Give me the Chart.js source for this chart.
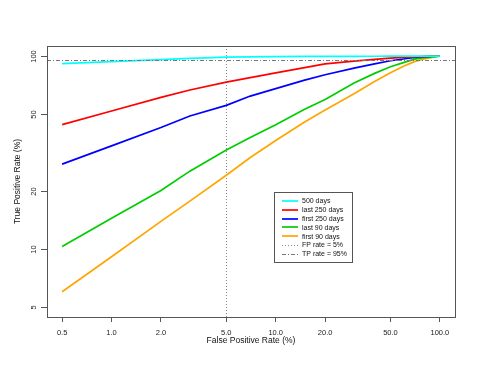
<!DOCTYPE html>
<html>
<head>
<meta charset="utf-8">
<script src="https://cdn.jsdelivr.net/npm/chart.js@4/dist/chart.umd.min.js"></script>
<style>
html,body{margin:0;padding:0;background:#fff;}
#wrap{width:485px;height:374px;position:relative;}
</style>
</head>
<body>
<div id="wrap"><canvas id="c" width="485" height="374"></canvas></div>
<script>
const xTicks = [0.5, 1, 2, 5, 10, 20, 50, 100];
const yTicks = [5, 10, 20, 50, 100];
const fpr = [0.5, 1, 2, 3, 5, 7, 10, 15, 20, 30, 40, 50, 60, 70, 80, 90, 100];
const tpr500 = [91.3, 93.5, 95.8, 97.2, 98.8, 99.1, 99.3, 99.5, 99.6, 99.7, 99.75, 99.8, 99.85, 99.9, 99.95, 99.97, 100];
const tprLast250 = [44.1, 51.9, 61.0, 66.7, 73.3, 77.3, 81.8, 87.0, 91.0, 94.0, 96.0, 97.5, 98.3, 99.0, 99.4, 99.8, 100];
const tprFirst250 = [27.5, 34.2, 42.6, 48.9, 55.5, 62.0, 67.8, 75.0, 80.0, 86.5, 91.0, 94.5, 96.5, 98.5, 99.4, 99.8, 100];
const tprLast90 = [10.3, 14.4, 20.1, 25.3, 32.6, 37.8, 44.0, 53.0, 59.5, 72.5, 81.3, 88.0, 92.5, 96.3, 98.0, 99.0, 100];
const tprFirst90 = [6.0, 9.1, 13.9, 17.7, 24.1, 29.8, 36.5, 45.5, 52.5, 63.8, 73.8, 81.8, 88.5, 93.5, 96.5, 98.4, 100];
const seriesNames = ['500 days', 'last 250 days', 'first 250 days', 'last 90 days', 'first 90 days'];
const seriesColors = ['#00FFFF', '#FF0000', '#0000FF', '#00CD00', '#FFA500'];
const seriesValues = [tpr500, tprLast250, tprFirst250, tprLast90, tprFirst90];
const fpRate = 5;
const tpRate = 95;
const refNames = ['FP rate = 5%', 'TP rate = 95%'];

const xMin = 0.5, xMax = 100, yMin = 5, yMax = 100;
const ext = 0.04;
function logExt(lo, hi) {
  const a = Math.log10(lo), b = Math.log10(hi), d = (b - a) * ext;
  return [Math.pow(10, a - d), Math.pow(10, b + d)];
}
const [xLo, xHi] = logExt(xMin, xMax);
const [yLo, yHi] = logExt(yMin, yMax);

const datasets = seriesValues.map((vals, i) => ({
  label: seriesNames[i],
  data: fpr.map((x, j) => ({x: x, y: vals[j]})),
  borderColor: seriesColors[i],
  backgroundColor: seriesColors[i],
  borderWidth: 1.7,
  pointRadius: 0,
  tension: 0,
  fill: false
}));

const FONT = "'Liberation Sans', Arial, Helvetica, sans-serif";
const axisCol = '#555';

const overlay = {
  id: 'overlay',
  beforeDatasetsDraw(chart) {
    const ctx = chart.ctx, xs = chart.scales.x, a = chart.chartArea;
    ctx.save();
    ctx.strokeStyle = '#888';
    ctx.lineWidth = 1;
    ctx.setLineDash([1, 2]);
    const px = Math.round(xs.getPixelForValue(fpRate)) + 0.5;
    ctx.beginPath(); ctx.moveTo(px, a.top); ctx.lineTo(px, a.bottom); ctx.stroke();
    ctx.restore();
  },
  afterDatasetsDraw(chart) {
    const ctx = chart.ctx, ys = chart.scales.y, a = chart.chartArea;
    ctx.save();
    ctx.strokeStyle = '#777';
    ctx.lineWidth = 1;
    ctx.setLineDash([4, 2, 1, 2]);
    const py = Math.round(ys.getPixelForValue(tpRate)) + 0.5;
    ctx.beginPath(); ctx.moveTo(a.left, py); ctx.lineTo(a.right, py); ctx.stroke();
    ctx.setLineDash([]);
    ctx.strokeStyle = axisCol;
    ctx.strokeRect(Math.round(a.left) + 0.5, Math.round(a.top) + 0.5, Math.round(a.right - a.left), Math.round(a.bottom - a.top));
    ctx.fillStyle = '#222';
    ctx.font = '7.5px ' + FONT;
    ctx.textAlign = 'center';
    ctx.textBaseline = 'middle';
    yTicks.forEach(v => {
      const y = Math.round(ys.getPixelForValue(v)) + 0.5;
      ctx.beginPath(); ctx.moveTo(a.left, y); ctx.lineTo(a.left - 6, y); ctx.stroke();
      ctx.save();
      ctx.translate(a.left - 13, y);
      ctx.rotate(-Math.PI / 2);
      ctx.fillText(String(v), 0, 0);
      ctx.restore();
    });
    const lx = 274, ly = 192, lw = 78, lh = 70;
    ctx.fillStyle = '#fff';
    ctx.fillRect(lx, ly, lw, lh);
    ctx.strokeStyle = '#555';
    ctx.lineWidth = 1;
    ctx.strokeRect(lx + 0.5, ly + 0.5, lw, lh);
    ctx.font = '7px ' + FONT;
    ctx.textAlign = 'left';
    const rowH = 8.85, y0 = 200.8;
    const entries = seriesNames.map((n, i) => ({name: n, color: seriesColors[i], dash: [], w: 1.7}));
    entries.push({name: refNames[0], color: '#888', dash: [1, 2], w: 1});
    entries.push({name: refNames[1], color: '#777', dash: [4, 2, 1, 2], w: 1});
    entries.forEach((e, i) => {
      const y = y0 + i * rowH;
      const yy = Math.round(y) + (e.w === 1 ? 0.5 : 0);
      ctx.strokeStyle = e.color;
      ctx.lineWidth = e.w;
      ctx.setLineDash(e.dash);
      ctx.beginPath(); ctx.moveTo(282, yy); ctx.lineTo(298, yy); ctx.stroke();
      ctx.setLineDash([]);
      ctx.fillStyle = '#111';
      ctx.fillText(e.name, 302, y + 0.5);
    });
    ctx.restore();
  }
};

new Chart(document.getElementById('c'), {
  type: 'line',
  data: {datasets: datasets},
  options: {
    responsive: false,
    animation: false,
    events: [],
    layout: {padding: {top: 46, right: 30, left: 0, bottom: 0}},
    plugins: {legend: {display: false}, tooltip: {enabled: false}},
    scales: {
      x: {
        type: 'logarithmic',
        position: 'bottom',
        min: xLo, max: xHi,
        afterBuildTicks: s => { s.ticks = xTicks.map(v => ({value: v})); },
        afterFit: s => { s.height = 57; },
        border: {display: false},
        grid: {drawOnChartArea: false, drawTicks: true, tickLength: 5, color: axisCol, lineWidth: 1},
        ticks: {
          autoSkip: false, maxRotation: 0, minRotation: 0,
          padding: 6,
          color: '#222',
          font: {family: FONT, size: 7.5},
          callback: v => Number(v).toFixed(1)
        },
        title: {display: true, text: 'False Positive Rate (%)', color: '#111', font: {family: FONT, size: 8.5}, padding: {top: 0, bottom: 28}}
      },
      y: {
        type: 'logarithmic',
        position: 'left',
        min: yLo, max: yHi,
        afterBuildTicks: s => { s.ticks = yTicks.map(v => ({value: v})); },
        afterFit: s => { s.width = 47; },
        border: {display: false},
        grid: {display: false},
        ticks: {display: false},
        title: {display: true, text: 'True Positive Rate (%)', color: '#111', font: {family: FONT, size: 8.5}, padding: {top: 13, bottom: 0}}
      }
    }
  },
  plugins: [overlay]
});
</script>
</body>
</html>
